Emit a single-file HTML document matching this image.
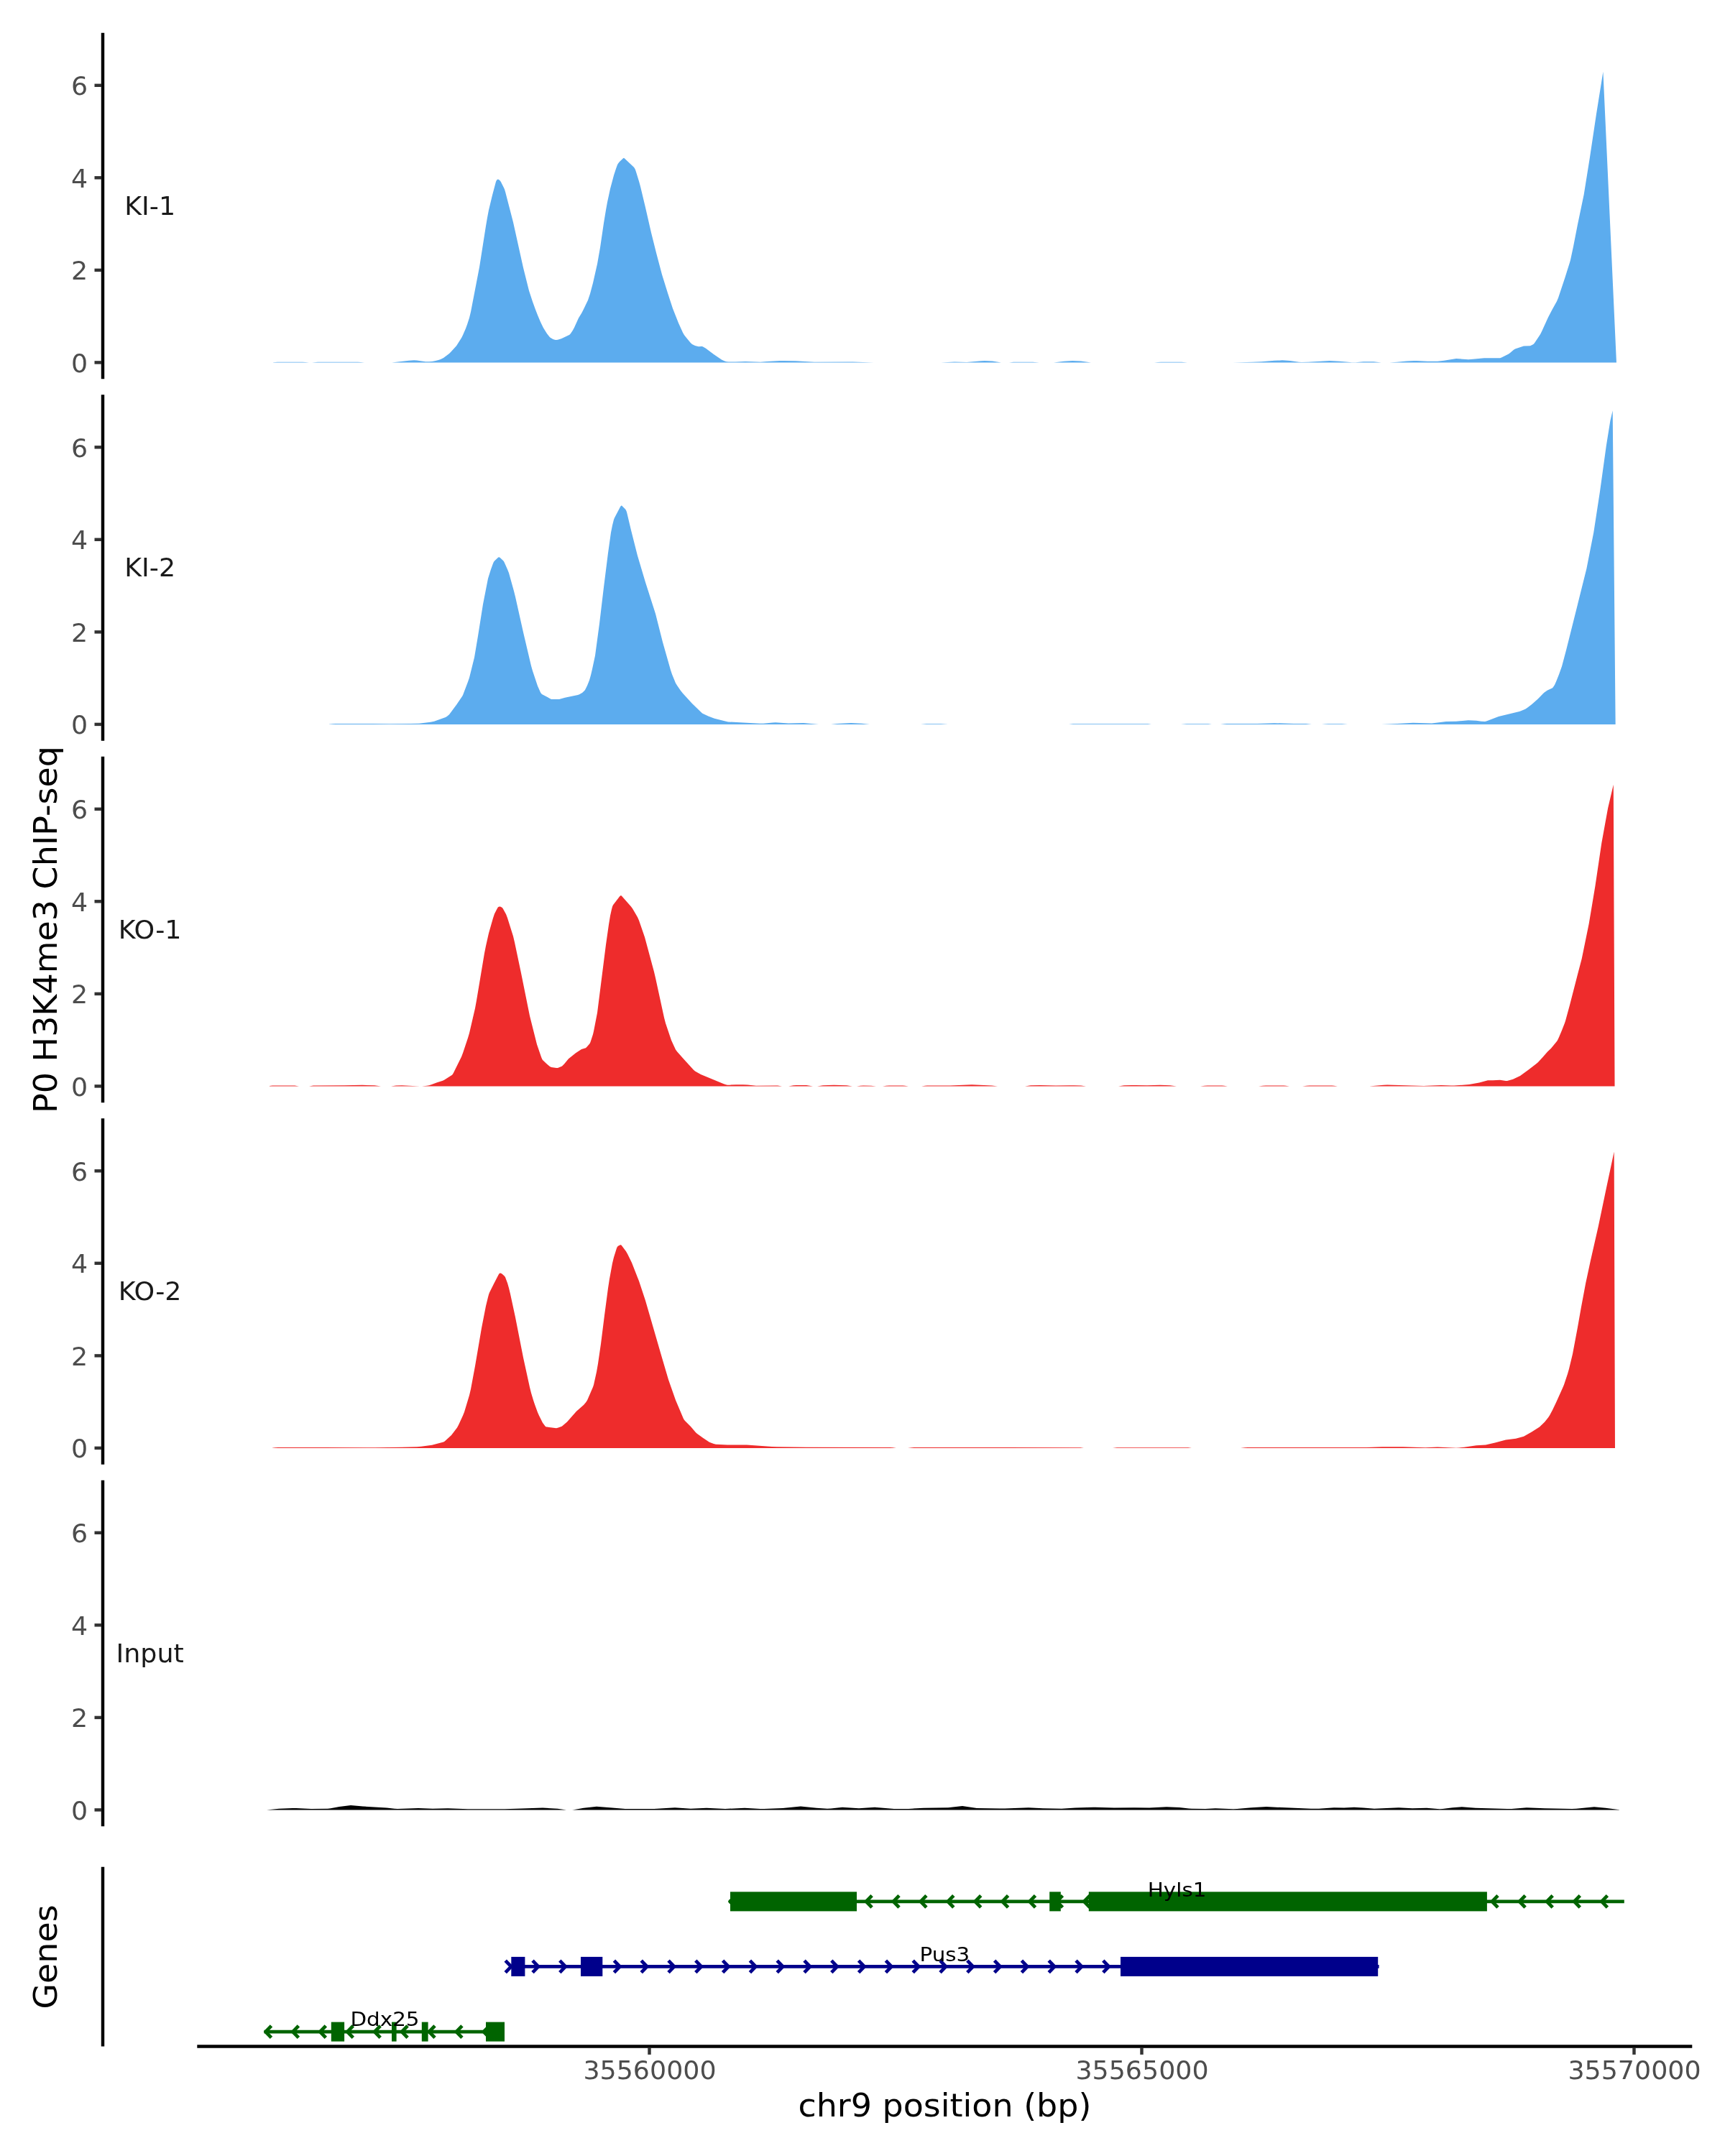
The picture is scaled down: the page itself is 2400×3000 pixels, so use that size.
<!DOCTYPE html>
<html lang="en"><head><meta charset="utf-8"><title>Coverage plot</title>
<style>html,body{margin:0;padding:0;background:#fff}svg{display:block;will-change:transform}text{font-family:"DejaVu Sans", "Liberation Sans", sans-serif}.tk{font-size:36.4px;fill:#4D4D4D}.st{font-size:36.4px;fill:#1A1A1A}.ti{font-size:45.95px;fill:#000}.gl{font-size:29.4px;fill:#000}</style></head><body>
<svg width="2400" height="3000" viewBox="0 0 2400 3000">
<rect width="2400" height="3000" fill="#fff"/>
<g id="panel-1">
<path d="M380 504.4L380 504.19L386 503.81L421 503.8L425 503.93L430 504.4L434 504.4L442 503.81L498 503.8L502 503.93L507 504.4L545 504.4L569 501.79L576 501.34L580 501.6L592 503.17L597 503.28L601 502.9L605 502.22L610 501.04L613 500.03L617 497.96L625 491.99L627 490.11L635 481.32L642 470.19L644 466.17L648 457.12L650 451.58L653 442.16L655 434.02L667 371.71L676 314.46L678 302.71L680 292.34L685 271.59L690 252.78L691 250.73L692 249.78L693 249.52L694 249.88L695 250.65L696 251.78L697 253.35L701 261.24L702 263.62L703 266.74L714 309.28L728 372.49L736 404.54L741 419.77L745 430.78L748 438.53L752 447.91L756 456.2L761 464.37L765 469.22L766 470.01L769 471.8L770 472.24L773 472.91L774 473.04L776 472.75L781 471.34L792 466.07L793 465.25L794 464.09L797 459.49L799 455.63L805 442.42L809 435.98L811 432.36L818 417.68L821 408.73L825 393.63L831 367.3L835 344.58L840 310.52L843 292.32L845 281.26L849 262.72L854 244.03L857 234.67L859 229.17L860 227.45L862 225.06L867 220.14L868 219.81L869 220.38L882 232.87L883 234.15L884 236.3L885 239.25L889 252.15L891 259.4L898 288.78L906 323.72L913 351.74L921 382.05L929 407.74L936 429.16L944 449.48L950 462.83L952 466.19L956 471.36L961 477.23L963 479.02L967 480.97L970 481.82L972 482.14L976 481.97L977 482.09L979 482.9L982 484.82L993 493L1004 500.49L1006 501.54L1009 502.68L1011 503.15L1014 503.5L1023 503.5L1037 502.96L1058 503.74L1067 502.93L1085 502.04L1090 501.95L1107 502.28L1133 503.74L1186 503.48L1216 504.4L1309 504.4L1328 503.55L1345 503.93L1365 502.25L1370 502.01L1381 502.56L1393 504.4L1404 504.4L1410 503.84L1415 503.7L1437 503.72L1446 504.4L1466 504.4L1480 502.79L1492 502.01L1504 502.61L1518 504.4L1606 504.4L1611 503.91L1615 503.8L1644 503.81L1652 504.4L1715 504.4L1743 503.77L1755 503.31L1773 501.85L1784 501.37L1795 502.1L1807 503.71L1811 503.96L1820 503.68L1850 502L1864 502.75L1881 504.24L1886 504.14L1897 503.24L1905 503.15L1911 503.34L1922 504.4L1933 504.4L1944 503.72L1957 502.53L1967 502.02L1971 502.05L1986 502.81L2000 502.72L2009 501.65L2026 498.98L2043 500.2L2052 499.55L2065 498.3L2087 498.2L2089 497.45L2099 492.41L2101 490.95L2106 486.69L2108 485.57L2120 481.42L2129 481.22L2130 480.86L2133 479.2L2134 478.47L2135 477.34L2143 465.23L2145 461.24L2154 441.57L2160 429.99L2166 419.31L2168 414.48L2177 387.45L2184 365.36L2185 361.71L2189 342.91L2195 312.36L2203.67 270.73L2211.84 219.71L2221.02 158.48L2230.41 99.71L2248.98 504.4L2249 504.4Z" fill="#5CACEE"/>
<line x1="143" x2="143" y1="45.8" y2="527.2" stroke="#000" stroke-width="4.45"/>
<line x1="131.5" x2="141.3" y1="504.4" y2="504.4" stroke="#333" stroke-width="4.45"/>
<text class="tk" transform="translate(122.2 517.6) scale(1 0.955)" text-anchor="end">0</text>
<line x1="131.5" x2="141.3" y1="375.9" y2="375.9" stroke="#333" stroke-width="4.45"/>
<text class="tk" transform="translate(122.2 389.1) scale(1 0.955)" text-anchor="end">2</text>
<line x1="131.5" x2="141.3" y1="247.3" y2="247.3" stroke="#333" stroke-width="4.45"/>
<text class="tk" transform="translate(122.2 260.5) scale(1 0.955)" text-anchor="end">4</text>
<line x1="131.5" x2="141.3" y1="118.8" y2="118.8" stroke="#333" stroke-width="4.45"/>
<text class="tk" transform="translate(122.2 132) scale(1 0.955)" text-anchor="end">6</text>
<text class="st" transform="translate(208.6 298.8) scale(1 0.955)" text-anchor="middle">KI-1</text>
</g>
<g id="panel-2">
<path d="M458 1007.9L458 1007.71L463 1007.21L467 1007.08L518 1006.91L542 1007.27L571 1007.02L583 1006.65L599 1004.71L604 1003.83L620 998.06L622 996.85L625 994.34L635 980.84L643 968.91L644 967.13L651 948.81L653 942.9L660 914.65L665 885.12L672 840.77L679 804.96L683 792.32L686 783.88L687 781.81L688 780.53L693 775.72L694 775.14L695 775.43L696 776.29L700 780.12L701 781.35L702 783.19L706 792.18L708 797.23L715 822.61L717 830.45L728 879.79L739 926.53L741 933.51L748 954.39L752 963.53L753 965.11L754 965.96L766 972.44L767 972.88L769 973.12L776 973.12L778 972.93L786 970.83L804 966.93L806 966.17L810 963.94L813 961.36L814 960.01L817 954.09L820 946.4L822 939.42L824 931.02L828 912.15L834 867.8L840 817.26L846 769.59L850 741.09L852 731L854 722.98L855 720.62L863 705.27L864 703.83L865 703.62L866 704.4L870 708.56L871 709.94L872 712.48L878 737.84L887 773.29L898 810.29L912 853.92L922 893.5L933 932.22L935 938.15L940 950.46L942 953.82L947 960.96L950 964.73L963 978.98L977 992.38L979 993.58L986 996.82L994 999.78L1009 1003.62L1013 1004.39L1057 1006.85L1062 1006.77L1075 1005.45L1079 1005.27L1097 1006.4L1118 1006.11L1139 1007.9L1156 1007.9L1165 1007.12L1184 1006.06L1199 1006.75L1210 1007.9L1281 1007.9L1289 1007.31L1295 1007.2L1309 1007.24L1319 1007.9L1487 1007.9L1493 1007.32L1497 1007.2L1593 1007.2L1597 1007.36L1602 1007.9L1643 1007.9L1651 1007.23L1677 1007.2L1681 1007.36L1686 1007.9L1698 1007.9L1704 1007.23L1707 1007.09L1749 1006.89L1773 1006.25L1800 1006.88L1817 1007.07L1825 1007.9L1839 1007.9L1844 1007.41L1848 1007.3L1867 1007.31L1875 1007.9L1922 1007.9L1944 1007L1966 1005.79L1992 1006.44L1996 1006.1L2012 1004.04L2026 1003.65L2043 1002.22L2054 1002.64L2061 1003.68L2066 1003.88L2068 1003.46L2070 1002.78L2085 996.95L2114 990.01L2116 989.32L2122 986.71L2124 985.42L2130 980.92L2133 978.46L2140 972.29L2147 964.97L2149 963.23L2153 960.4L2159 957.83L2160 957.19L2161 956.11L2163 952.9L2165 948.57L2169 938.51L2173 927.35L2179 904.86L2195 840.9L2195.22 840.02L2207.34 791.55L2217.25 740.88L2226.06 683.6L2234.88 619.71L2240.38 585.56L2243.69 571.24L2247.65 1007.9L2247.7 1007.9Z" fill="#5CACEE"/>
<line x1="143" x2="143" y1="549.3" y2="1030.7" stroke="#000" stroke-width="4.45"/>
<line x1="131.5" x2="141.3" y1="1007.9" y2="1007.9" stroke="#333" stroke-width="4.45"/>
<text class="tk" transform="translate(122.2 1021.1) scale(1 0.955)" text-anchor="end">0</text>
<line x1="131.5" x2="141.3" y1="879.4" y2="879.4" stroke="#333" stroke-width="4.45"/>
<text class="tk" transform="translate(122.2 892.6) scale(1 0.955)" text-anchor="end">2</text>
<line x1="131.5" x2="141.3" y1="750.8" y2="750.8" stroke="#333" stroke-width="4.45"/>
<text class="tk" transform="translate(122.2 764) scale(1 0.955)" text-anchor="end">4</text>
<line x1="131.5" x2="141.3" y1="622.3" y2="622.3" stroke="#333" stroke-width="4.45"/>
<text class="tk" transform="translate(122.2 635.5) scale(1 0.955)" text-anchor="end">6</text>
<text class="st" transform="translate(208.6 802.3) scale(1 0.955)" text-anchor="middle">KI-2</text>
</g>
<g id="panel-3">
<path d="M375 1511.4L375 1511.11L379 1510.58L382 1510.41L406 1510.4L410 1510.62L416 1511.4L430 1511.4L436 1510.57L439 1510.39L479 1510.2L504 1509.84L521 1510.29L530 1511.4L544 1511.4L551 1510.43L559 1510.17L584 1511.4L587 1511.4L594 1510.87L597 1510.29L600 1509.3L608 1506.16L616 1503.69L618 1502.65L629 1495.66L630 1494.42L631 1492.65L642 1470.52L644 1465.2L651 1444.2L653 1437.62L661 1402.97L663 1391.95L674 1326.14L676 1316.21L680 1298.41L686 1277.49L688 1271.56L692 1263.69L693 1262.36L694 1261.75L695 1261.52L696 1261.56L697 1261.93L698 1262.43L699 1263.22L700 1264.65L704 1272.03L706 1277.13L714 1302.78L716 1311.27L725 1353.9L737 1413.4L747 1453.29L753 1470.83L754 1473.33L755 1474.96L760 1479.78L765 1484.02L766 1484.62L767 1484.91L774 1485.91L776 1486.03L781 1484.12L782 1483.46L785 1480.39L791 1473.32L801 1465.27L809 1460.05L814 1458.62L815 1458.18L816 1457.32L820 1452.87L821 1451.18L822 1448.59L825 1439.2L826 1434.91L831 1409.28L843 1314.61L847 1286.46L849 1274.28L851 1265.24L852 1261.5L853 1259.18L862 1247.57L863 1246.43L864 1246.04L865 1246.72L878 1261.62L880 1264.18L887 1276.14L889 1280.67L897 1304.04L910 1352.24L912 1360.74L924 1415.94L926 1423.81L934 1447.62L940 1460.46L942 1463.19L952 1474.48L965 1488.76L967 1490.38L975 1495.06L1007 1508.36L1010 1509.32L1012 1509.63L1015 1509.66L1024 1509.16L1034 1509.29L1040 1509.57L1052 1510.65L1079 1510.43L1082 1510.58L1088 1511.4L1097 1511.4L1104 1510.33L1108 1510.1L1122 1510.12L1125 1510.39L1131 1511.4L1137 1511.4L1145 1510.18L1160 1509.84L1178 1510.19L1186 1511.4L1192 1511.4L1197 1510.78L1201 1510.6L1212 1510.64L1219 1511.4L1228 1511.4L1233 1510.78L1237 1510.6L1256 1510.61L1259 1510.78L1264 1511.4L1282 1511.4L1287 1510.78L1290 1510.61L1322 1510.55L1352 1509.28L1380 1510.43L1388 1511.4L1426 1511.4L1434 1510.36L1447 1510.06L1469 1510.59L1488 1510.17L1494 1510.2L1504 1510.48L1511 1511.4L1556 1511.4L1564 1510.33L1575 1509.91L1580 1509.89L1596 1510.33L1614 1509.78L1628 1510.26L1637 1511.4L1670 1511.4L1676 1510.66L1680 1510.5L1700 1510.51L1703 1510.7L1708 1511.4L1751 1511.4L1757 1510.66L1761 1510.5L1786 1510.51L1789 1510.7L1794 1511.4L1812 1511.4L1818 1510.66L1822 1510.5L1853 1510.51L1856 1510.7L1861 1511.4L1905 1511.4L1925 1509.72L1930 1509.51L1981 1510.89L1986 1510.83L2005 1509.97L2019 1510.58L2023 1510.58L2038 1509.61L2044 1508.92L2058 1506.62L2070 1503.3L2077 1503.2L2087 1502.65L2095 1503.94L2097 1503.89L2105 1501.82L2115 1496.89L2127 1488.2L2138 1479.81L2140 1477.97L2146 1471.45L2153 1463.4L2158 1458.82L2166 1449.04L2167 1447.59L2169 1443.33L2173 1433.74L2177 1423.56L2178 1420.52L2184 1398.62L2195 1355.68L2200.73 1334.05L2210.64 1285.58L2219.45 1232.7L2228.27 1173.22L2237.08 1124.75L2244.79 1091.7L2246.55 1511.4L2246.6 1511.4Z" fill="#EE2C2C"/>
<line x1="143" x2="143" y1="1052.8" y2="1534.2" stroke="#000" stroke-width="4.45"/>
<line x1="131.5" x2="141.3" y1="1511.4" y2="1511.4" stroke="#333" stroke-width="4.45"/>
<text class="tk" transform="translate(122.2 1524.6) scale(1 0.955)" text-anchor="end">0</text>
<line x1="131.5" x2="141.3" y1="1382.9" y2="1382.9" stroke="#333" stroke-width="4.45"/>
<text class="tk" transform="translate(122.2 1396.1) scale(1 0.955)" text-anchor="end">2</text>
<line x1="131.5" x2="141.3" y1="1254.3" y2="1254.3" stroke="#333" stroke-width="4.45"/>
<text class="tk" transform="translate(122.2 1267.5) scale(1 0.955)" text-anchor="end">4</text>
<line x1="131.5" x2="141.3" y1="1125.8" y2="1125.8" stroke="#333" stroke-width="4.45"/>
<text class="tk" transform="translate(122.2 1139) scale(1 0.955)" text-anchor="end">6</text>
<text class="st" transform="translate(208.6 1305.8) scale(1 0.955)" text-anchor="middle">KO-1</text>
</g>
<g id="panel-4">
<path d="M379 2014.9L379 2014.67L383 2014.24L387 2014.09L450 2014L522 2014.18L559 2013.8L580 2013.23L586 2012.77L601 2010.67L617 2006.46L618 2006.02L619 2005.26L628 1996.94L636 1986.38L638 1982.76L644 1969.76L646 1964.7L653 1941.52L655 1933.1L661 1900.72L670 1848.12L676 1817.27L679 1804.99L680 1801.34L681 1798.55L687 1786.42L694 1773.03L695 1771.84L696 1771.54L697 1771.71L698 1772.16L699 1772.96L702 1775.84L703 1777.32L706 1785.32L708 1792.21L710 1800.38L717 1832.98L728 1888.96L737 1930.3L739 1938.36L742 1948.16L744 1954.23L748 1965.26L750 1969.76L755 1979.69L758 1983.83L759 1984.9L760 1985.41L761 1985.58L774 1987.24L776 1986.82L781 1984.99L782 1984.45L789 1978.57L802 1963.7L812 1954.98L815 1951.51L817 1948.42L818 1946.23L825 1929.9L826 1927.03L830 1908.95L832 1897.6L836 1869.97L841 1830.19L846 1792.53L848 1779.6L852 1757.73L854 1749.4L858 1736.7L859 1734.73L860 1733.8L863 1732.25L864 1732.37L865 1733.31L871 1741.16L873 1744.67L879 1756.88L889 1782.59L898 1809.69L920 1885.87L930 1919.83L940 1948.26L951 1974.23L952 1975.78L953 1976.89L961 1984.91L968 1993.16L970 1994.99L978 2000.8L987 2006.69L989 2007.6L993 2009.04L996 2009.71L1012 2010.52L1039 2010.62L1074 2012.93L1081 2013.23L1122 2013.7L1238 2014.08L1242 2014.27L1247 2014.9L1263 2014.9L1269 2014.15L1272 2014L1305 2013.9L1400 2013.9L1499 2014.19L1503 2014.35L1508 2014.9L1548 2014.9L1554 2014.32L1558 2014.2L1649 2014.2L1653 2014.36L1658 2014.9L1726 2014.9L1732 2014.24L1736 2014.09L1801 2013.9L1901 2013.94L1923 2013.36L1952 2013.16L1983 2014.15L2000 2013.48L2026 2014.74L2030 2014.48L2037 2013.63L2054 2011.25L2067 2010.44L2080 2007.56L2095 2003.48L2109 2001.69L2120 1998.64L2131 1992.6L2142 1985.54L2149 1978.65L2154 1972.38L2156 1969.48L2160 1961.91L2165 1951.39L2174 1931.6L2176 1926.63L2181 1911.71L2183 1904.71L2188 1883.97L2195 1846.8L2199.63 1820.58L2206.23 1785.33L2212.84 1754.49L2223.86 1706.02L2234.88 1653.15L2245.67 1602.47L2246.99 2014.9L2247 2014.9Z" fill="#EE2C2C"/>
<line x1="143" x2="143" y1="1556.3" y2="2037.7" stroke="#000" stroke-width="4.45"/>
<line x1="131.5" x2="141.3" y1="2014.9" y2="2014.9" stroke="#333" stroke-width="4.45"/>
<text class="tk" transform="translate(122.2 2028.1) scale(1 0.955)" text-anchor="end">0</text>
<line x1="131.5" x2="141.3" y1="1886.4" y2="1886.4" stroke="#333" stroke-width="4.45"/>
<text class="tk" transform="translate(122.2 1899.6) scale(1 0.955)" text-anchor="end">2</text>
<line x1="131.5" x2="141.3" y1="1757.8" y2="1757.8" stroke="#333" stroke-width="4.45"/>
<text class="tk" transform="translate(122.2 1771) scale(1 0.955)" text-anchor="end">4</text>
<line x1="131.5" x2="141.3" y1="1629.3" y2="1629.3" stroke="#333" stroke-width="4.45"/>
<text class="tk" transform="translate(122.2 1642.5) scale(1 0.955)" text-anchor="end">6</text>
<text class="st" transform="translate(208.6 1809.3) scale(1 0.955)" text-anchor="middle">KO-2</text>
</g>
<g id="panel-5">
<path d="M371 2518.4L371 2518.4L388 2516.63L407 2516.09L412 2516.12L433 2517.07L456 2516.77L460 2516.28L472 2513.98L488 2511.89L505 2513.5L538 2515.5L549 2516.74L553 2516.99L582 2516.08L602 2516.77L623 2516.37L651 2517.37L702 2517.13L726 2516.58L755 2515.53L776 2516.79L788 2518.4L796 2518.4L798 2518.19L812 2515.64L830 2513.87L849 2515.13L870 2516.92L875 2517.11L910 2517.07L939 2515.28L961 2516.72L983 2515.82L1009 2517.01L1036 2515.82L1058 2516.93L1063 2517.01L1089 2515.95L1114 2513.59L1136 2515.67L1151 2516.65L1156 2516.47L1172 2514.76L1195 2516.13L1217 2514.72L1244 2516.99L1257 2517.11L1264 2516.95L1285 2515.72L1319 2515.14L1339 2513.04L1359 2515.92L1391 2516.5L1398 2516.42L1431 2515.24L1451 2516.27L1477 2516.76L1496 2515.43L1521 2514.67L1550 2515.41L1578 2515.18L1599 2515.4L1623 2514.13L1641 2515.12L1654 2516.55L1658 2516.83L1677 2517.06L1691 2516.37L1716 2517.26L1721 2517.07L1741 2515.37L1762 2514.12L1824 2516.81L1835 2516.73L1856 2515.26L1870 2515.39L1884 2514.7L1897 2515.39L1912 2516.69L1946 2515.26L1965 2516.2L1985 2515.84L2003 2517.19L2007 2516.96L2021 2515.17L2034 2514.17L2053 2515.76L2097 2517L2103 2516.93L2124 2515.27L2149 2516.36L2187 2517.06L2193 2516.81L2218 2514.18L2234 2515.66L2253 2518.27L2253 2518.4Z" fill="#000000"/>
<line x1="143" x2="143" y1="2059.8" y2="2541.2" stroke="#000" stroke-width="4.45"/>
<line x1="131.5" x2="141.3" y1="2518.4" y2="2518.4" stroke="#333" stroke-width="4.45"/>
<text class="tk" transform="translate(122.2 2531.6) scale(1 0.955)" text-anchor="end">0</text>
<line x1="131.5" x2="141.3" y1="2389.9" y2="2389.9" stroke="#333" stroke-width="4.45"/>
<text class="tk" transform="translate(122.2 2403.1) scale(1 0.955)" text-anchor="end">2</text>
<line x1="131.5" x2="141.3" y1="2261.3" y2="2261.3" stroke="#333" stroke-width="4.45"/>
<text class="tk" transform="translate(122.2 2274.5) scale(1 0.955)" text-anchor="end">4</text>
<line x1="131.5" x2="141.3" y1="2132.8" y2="2132.8" stroke="#333" stroke-width="4.45"/>
<text class="tk" transform="translate(122.2 2146) scale(1 0.955)" text-anchor="end">6</text>
<text class="st" transform="translate(208.6 2312.8) scale(1 0.955)" text-anchor="middle">Input</text>
</g>
<text class="ti" transform="translate(79.2 1293.5) rotate(-90) scale(1 0.962)" text-anchor="middle">P0 H3K4me3 ChIP-seq</text>
<text class="ti" transform="translate(79.2 2723) rotate(-90) scale(1 0.962)" text-anchor="middle">Genes</text>
<g id="genes">
<line x1="143" x2="143" y1="2597.8" y2="2847.4" stroke="#000" stroke-width="4.45"/>
<line x1="274.3" x2="2354.3" y1="2847.4" y2="2847.4" stroke="#000" stroke-width="4.45"/>
<line x1="1014.5" x2="2259.8" y1="2645.9" y2="2645.9" stroke="#006400" stroke-width="4.8"/>
<path d="M1023.6 2637.6L1015.6 2645.9L1023.6 2654.2M1061.5 2637.6L1053.5 2645.9L1061.5 2654.2M1099.4 2637.6L1091.4 2645.9L1099.4 2654.2M1137.3 2637.6L1129.3 2645.9L1137.3 2654.2M1175.2 2637.6L1167.2 2645.9L1175.2 2654.2M1213.1 2637.6L1205.1 2645.9L1213.1 2654.2M1251 2637.6L1243 2645.9L1251 2654.2M1288.9 2637.6L1280.9 2645.9L1288.9 2654.2M1326.8 2637.6L1318.8 2645.9L1326.8 2654.2M1364.7 2637.6L1356.7 2645.9L1364.7 2654.2M1402.6 2637.6L1394.6 2645.9L1402.6 2654.2M1440.5 2637.6L1432.5 2645.9L1440.5 2654.2M1478.4 2637.6L1470.4 2645.9L1478.4 2654.2M1516.3 2637.6L1508.3 2645.9L1516.3 2654.2M2084 2637.6L2076 2645.9L2084 2654.2M2122.1 2637.6L2114.1 2645.9L2122.1 2654.2M2160.2 2637.6L2152.2 2645.9L2160.2 2654.2M2198.3 2637.6L2190.3 2645.9L2198.3 2654.2M2236.4 2637.6L2228.4 2645.9L2236.4 2654.2" fill="none" stroke="#006400" stroke-width="4.8" stroke-linejoin="round" stroke-linecap="butt"/>
<rect x="1016" y="2632.4" width="176" height="27" fill="#006400"/>
<rect x="1460.2" y="2632.4" width="15.6" height="27" fill="#006400"/>
<rect x="1514.8" y="2632.4" width="554.1" height="27" fill="#006400"/>
<text class="gl" transform="translate(1637.6 2638.8) scale(1 0.93)" text-anchor="middle">Hyls1</text>
<line x1="711.3" x2="1918.6" y1="2736.4" y2="2736.4" stroke="#00008B" stroke-width="4.8"/>
<path d="M703.2 2728.1L711.2 2736.4L703.2 2744.7M741 2728.1L749 2736.4L741 2744.7M778.8 2728.1L786.8 2736.4L778.8 2744.7M816.6 2728.1L824.6 2736.4L816.6 2744.7M854.4 2728.1L862.4 2736.4L854.4 2744.7M892.2 2728.1L900.2 2736.4L892.2 2744.7M930 2728.1L938 2736.4L930 2744.7M967.8 2728.1L975.8 2736.4L967.8 2744.7M1005.6 2728.1L1013.6 2736.4L1005.6 2744.7M1043.4 2728.1L1051.4 2736.4L1043.4 2744.7M1081.2 2728.1L1089.2 2736.4L1081.2 2744.7M1119 2728.1L1127 2736.4L1119 2744.7M1156.8 2728.1L1164.8 2736.4L1156.8 2744.7M1194.6 2728.1L1202.6 2736.4L1194.6 2744.7M1232.4 2728.1L1240.4 2736.4L1232.4 2744.7M1270.2 2728.1L1278.2 2736.4L1270.2 2744.7M1308 2728.1L1316 2736.4L1308 2744.7M1345.8 2728.1L1353.8 2736.4L1345.8 2744.7M1383.6 2728.1L1391.6 2736.4L1383.6 2744.7M1421.4 2728.1L1429.4 2736.4L1421.4 2744.7M1459.2 2728.1L1467.2 2736.4L1459.2 2744.7M1497 2728.1L1505 2736.4L1497 2744.7M1534.8 2728.1L1542.8 2736.4L1534.8 2744.7" fill="none" stroke="#00008B" stroke-width="4.8" stroke-linejoin="round" stroke-linecap="butt"/>
<rect x="711.3" y="2722.9" width="19.1" height="27" fill="#00008B"/>
<rect x="808" y="2722.9" width="30.3" height="27" fill="#00008B"/>
<rect x="1559" y="2722.9" width="358.2" height="27" fill="#00008B"/>
<text class="gl" transform="translate(1314.4 2729.4) scale(1 0.93)" text-anchor="middle">Pus3</text>
<line x1="367.5" x2="702" y1="2827.1" y2="2827.1" stroke="#006400" stroke-width="4.8"/>
<path d="M377.5 2818.8L369.5 2827.1L377.5 2835.4M415.4 2818.8L407.4 2827.1L415.4 2835.4M453.3 2818.8L445.3 2827.1L453.3 2835.4M491.3 2818.8L483.3 2827.1L491.3 2835.4M529.2 2818.8L521.2 2827.1L529.2 2835.4M567.1 2818.8L559.1 2827.1L567.1 2835.4M605 2818.8L597 2827.1L605 2835.4M642.9 2818.8L634.9 2827.1L642.9 2835.4M680.9 2818.8L672.9 2827.1L680.9 2835.4" fill="none" stroke="#006400" stroke-width="4.8" stroke-linejoin="round" stroke-linecap="butt"/>
<rect x="460.8" y="2813.6" width="18.3" height="27" fill="#006400"/>
<rect x="545" y="2813.6" width="6.6" height="27" fill="#006400"/>
<rect x="586.8" y="2813.6" width="8.8" height="27" fill="#006400"/>
<rect x="676" y="2813.6" width="26" height="27" fill="#006400"/>
<text class="gl" transform="translate(535.5 2819.1) scale(1 0.93)" text-anchor="middle">Ddx25</text>
</g>
<g id="xaxis">
<line x1="903.5" x2="903.5" y1="2849.1" y2="2858.9" stroke="#333" stroke-width="4.45"/>
<text class="tk" transform="translate(904 2893.4) scale(1 0.955)" text-anchor="middle">35560000</text>
<line x1="1588.5" x2="1588.5" y1="2849.1" y2="2858.9" stroke="#333" stroke-width="4.45"/>
<text class="tk" transform="translate(1589 2893.4) scale(1 0.955)" text-anchor="middle">35565000</text>
<line x1="2273.5" x2="2273.5" y1="2849.1" y2="2858.9" stroke="#333" stroke-width="4.45"/>
<text class="tk" transform="translate(2274 2893.4) scale(1 0.955)" text-anchor="middle">35570000</text>
<text class="ti" transform="translate(1314.4 2944.9) scale(1 0.962)" text-anchor="middle">chr9 position (bp)</text>
</g>
</svg></body></html>
